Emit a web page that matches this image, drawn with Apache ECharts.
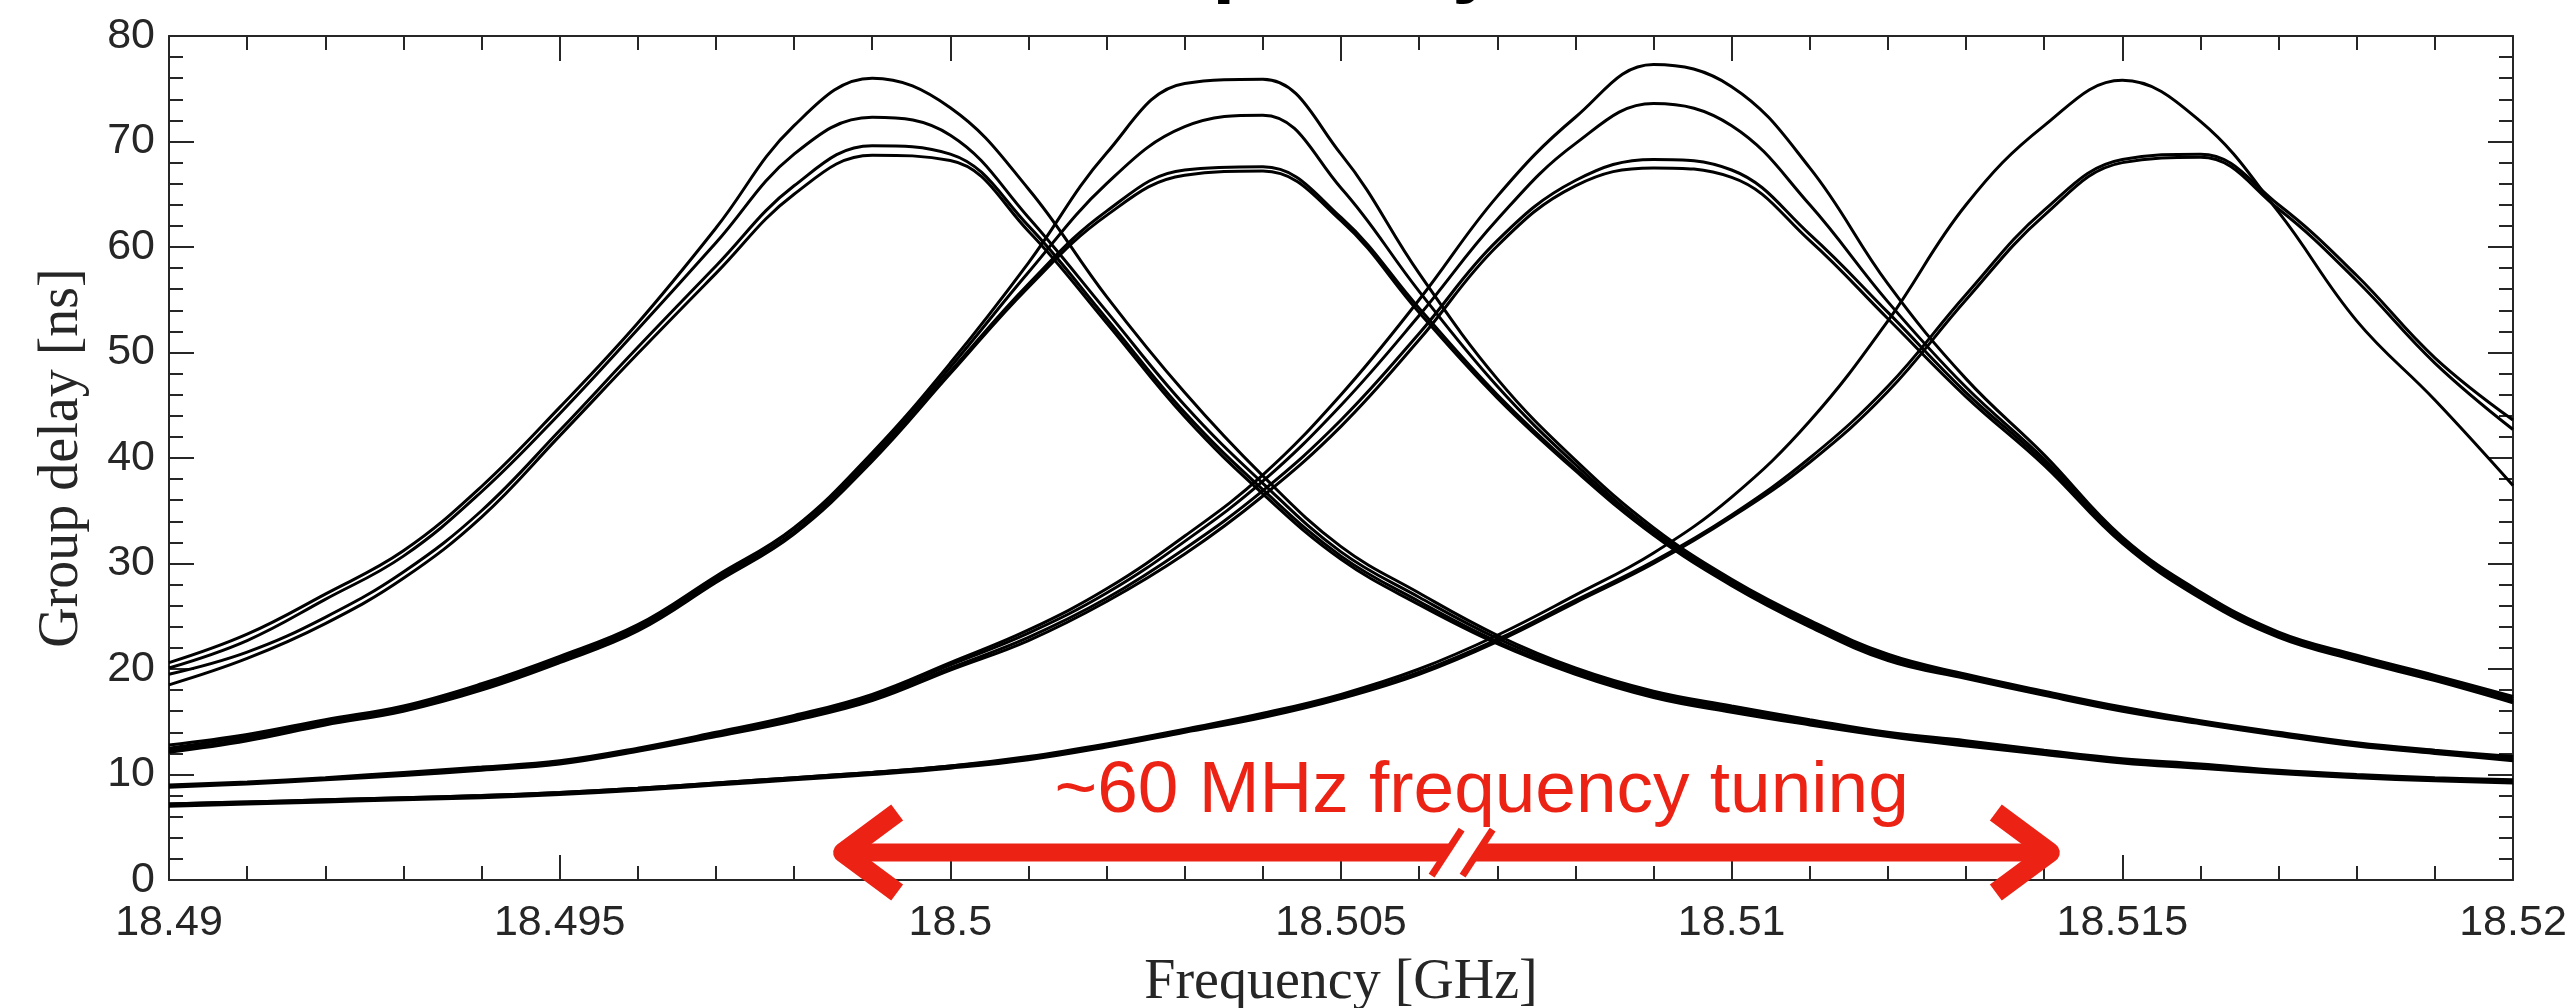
<!DOCTYPE html>
<html>
<head>
<meta charset="UTF-8">
<title>Group delay</title>
<script src="https://cdn.jsdelivr.net/npm/echarts@6/dist/echarts.min.js"></script>
<style>html,body{margin:0;padding:0;background:#fff;}</style>
</head>
<body>
<div id="main" style="width:2570px;height:1008px"></div>
<script>
// frequency grid (GHz)
var freq = [18.490, 18.491, 18.492, 18.493, 18.494, 18.495, 18.496, 18.497, 18.498, 18.499, 18.500,
            18.501, 18.502, 18.503, 18.504, 18.505, 18.506, 18.507, 18.508, 18.509, 18.510,
            18.511, 18.512, 18.513, 18.514, 18.515, 18.516, 18.517, 18.518, 18.519, 18.520];

// resonance A (~18.499 GHz)
var A1 = [20.6, 23.3, 27.1, 31.2, 37.3, 44.8, 52.8, 61.8, 71.5, 76.0, 73.2, 65.5, 55.3, 46.2, 38.3, 31.6, 27.2, 23.2, 20.1, 17.9, 16.5, 15.2, 14.0, 13.2, 12.3, 11.5, 11.0, 10.4, 10.0, 9.7, 9.5];
var A2 = [20.1, 22.7, 26.6, 30.7, 36.8, 44.2, 52.2, 60.4, 68.8, 72.3, 70.6, 62.8, 53.9, 45.0, 37.6, 31.1, 26.8, 22.9, 19.9, 17.7, 16.3, 15.0, 13.9, 13.0, 12.2, 11.4, 10.8, 10.3, 9.9, 9.6, 9.4];
var A3 = [19.5, 21.6, 24.9, 29.2, 35.0, 42.6, 50.5, 58.2, 65.8, 69.6, 68.8, 62.0, 53.2, 44.3, 37.0, 30.7, 26.4, 22.6, 19.7, 17.5, 16.1, 14.8, 13.7, 12.8, 12.0, 11.2, 10.7, 10.2, 9.8, 9.5, 9.3];
var A4 = [18.5, 21.0, 24.3, 28.6, 34.4, 42.1, 49.9, 57.5, 65.0, 68.7, 68.2, 61.5, 52.8, 43.9, 36.6, 30.4, 26.1, 22.4, 19.5, 17.3, 15.9, 14.7, 13.6, 12.7, 11.9, 11.1, 10.6, 10.1, 9.7, 9.4, 9.2];

// resonance B (~18.5035 GHz)
var B1 = [12.8, 13.8, 15.2, 16.5, 18.6, 21.2, 24.2, 28.8, 33.4, 40.5, 49.0, 58.5, 68.9, 75.5, 75.9, 68.8, 57.5, 47.5, 39.8, 33.4, 28.5, 24.6, 21.4, 19.5, 17.9, 16.4, 15.1, 14.0, 13.0, 12.3, 11.7];
var B2 = [12.5, 13.6, 15.0, 16.3, 18.4, 21.0, 24.0, 28.6, 33.3, 40.2, 48.6, 57.6, 66.0, 71.4, 72.5, 65.6, 55.8, 46.8, 39.4, 33.1, 28.3, 24.4, 21.2, 19.4, 17.8, 16.3, 15.0, 13.9, 12.9, 12.2, 11.6];
var B3 = [12.3, 13.4, 14.9, 16.2, 18.2, 20.8, 23.8, 28.4, 33.0, 39.9, 48.2, 56.5, 63.4, 67.3, 67.6, 62.8, 54.2, 46.0, 39.0, 32.9, 28.1, 24.2, 21.0, 19.3, 17.7, 16.2, 14.9, 13.8, 12.8, 12.1, 11.4];
var B4 = [12.1, 13.2, 14.7, 16.0, 18.0, 20.6, 23.6, 28.2, 32.8, 39.7, 48.0, 56.2, 63.0, 66.8, 67.2, 62.5, 53.8, 45.7, 38.8, 32.7, 27.9, 24.0, 20.8, 19.1, 17.5, 16.0, 14.8, 13.7, 12.7, 12.0, 11.3];

// resonance C (~18.509 GHz)
var C1 = [9.0, 9.3, 9.7, 10.2, 10.7, 11.3, 12.5, 14.0, 15.6, 17.6, 20.6, 23.7, 27.6, 32.6, 38.4, 46.0, 55.0, 64.8, 72.3, 77.3, 75.2, 67.5, 56.5, 47.5, 40.3, 32.5, 27.3, 23.5, 21.3, 19.4, 17.4];
var C2 = [8.9, 9.2, 9.6, 10.1, 10.6, 11.2, 12.4, 13.9, 15.5, 17.4, 20.4, 23.4, 27.2, 32.1, 37.8, 45.0, 53.5, 62.6, 69.8, 73.6, 71.5, 64.0, 54.8, 46.7, 39.9, 32.3, 27.1, 23.4, 21.2, 19.3, 17.2];
var C3 = [8.9, 9.2, 9.6, 10.0, 10.5, 11.1, 12.3, 13.8, 15.3, 17.2, 20.1, 23.0, 26.7, 31.4, 36.9, 43.6, 51.8, 60.6, 66.3, 68.3, 67.3, 61.2, 53.8, 46.2, 39.6, 32.1, 26.9, 23.2, 21.0, 19.1, 17.0];
var C4 = [8.8, 9.1, 9.5, 9.9, 10.4, 11.0, 12.2, 13.6, 15.1, 17.0, 19.9, 22.7, 26.4, 30.9, 36.4, 43.0, 51.2, 60.1, 65.8, 67.5, 66.6, 60.6, 53.2, 45.8, 39.3, 31.9, 26.7, 23.0, 20.8, 18.9, 16.8];

// resonance D (~18.515 GHz)
var D1 = [7.2, 7.4, 7.6, 7.8, 8.0, 8.3, 8.7, 9.2, 9.7, 10.2, 10.8, 11.7, 12.9, 14.3, 15.8, 17.6, 20.0, 23.2, 27.0, 31.0, 36.3, 43.5, 53.0, 64.0, 71.5, 75.8, 71.9, 63.3, 53.0, 45.5, 37.4];
var D2 = [7.2, 7.4, 7.6, 7.8, 8.0, 8.3, 8.7, 9.2, 9.7, 10.2, 10.8, 11.6, 12.8, 14.2, 15.6, 17.4, 19.7, 22.8, 26.5, 30.2, 34.6, 40.0, 46.8, 55.5, 63.5, 68.3, 68.8, 64.0, 57.3, 49.5, 43.6];
var D3 = [7.0, 7.2, 7.4, 7.6, 7.8, 8.1, 8.5, 9.0, 9.5, 10.0, 10.6, 11.4, 12.6, 14.0, 15.4, 17.2, 19.5, 22.6, 26.3, 30.0, 34.4, 39.6, 46.3, 55.0, 63.0, 68.0, 68.5, 63.6, 56.8, 49.0, 42.7];

var traces = [A1, A2, A3, A4, B1, B2, B3, B4, C1, C2, C3, C4, D1, D2, D3];

// axes
var xTickLabels = ['18.49', '18.495', '18.5', '18.505', '18.51', '18.515', '18.52'];
var yTickLabels = ['0', '10', '20', '30', '40', '50', '60', '70', '80'];

// annotation (data coordinates)
var arrowFrom = 18.4985, arrowTo = 18.5142, arrowLevel = 2.6, arrowBreak = 18.50655;
var noteFreq = 18.5068, noteLevel = 8.4;
var noteText = '~60 MHz frequency tuning';
var titleText = 'Group delay';

var ink = '#262626';
var red = '#ec2314';

var myChart = echarts.init(document.getElementById('main'));

var series = traces.map(function (t) {
    return {
        type: 'line',
        data: freq.map(function (f, i) { return [f, t[i]]; }),
        showSymbol: false,
        smooth: 0.4,
        silent: true,
        lineStyle: { color: '#000', width: 3 }
    };
});

series.push({
    type: 'custom',
    silent: true,
    z: 10,
    data: [[arrowFrom, arrowTo, arrowLevel, arrowBreak, noteFreq, noteLevel]],
    encode: { x: [0, 1], y: 2 },
    renderItem: function (params, api) {
        var pa = api.coord([api.value(0), api.value(2)]);
        var pb = api.coord([api.value(1), api.value(2)]);
        var pk = api.coord([api.value(3), api.value(2)]);
        var pn = api.coord([api.value(4), api.value(5)]);
        var y = pa[1], xa = pa[0] + 10, xb = pb[0] - 10, xk = pk[0];
        var hx = 54, hy = 40;
        var c1 = xk - 15.5, c2 = xk + 15.5;
        return {
            type: 'group',
            children: [
                { type: 'line', shape: { x1: xa + 4, y1: y, x2: xb - 4, y2: y }, style: { stroke: red, lineWidth: 18 } },
                { type: 'polyline', shape: { points: [[xa + hx, y - hy], [xa, y], [xa + hx, y + hy]] },
                  style: { stroke: red, lineWidth: 20, fill: null, lineJoin: 'round' } },
                { type: 'polyline', shape: { points: [[xb - hx, y - hy], [xb, y], [xb - hx, y + hy]] },
                  style: { stroke: red, lineWidth: 20, fill: null, lineJoin: 'round' } },
                { type: 'polygon', shape: { points: [[c1 + 7, y - 11], [c2 + 7, y - 11], [c2 - 7, y + 11], [c1 - 7, y + 11]] },
                  style: { fill: '#fff' } },
                { type: 'line', shape: { x1: c1 + 15, y1: y - 23, x2: c1 - 15, y2: y + 23 }, style: { stroke: red, lineWidth: 7 } },
                { type: 'line', shape: { x1: c2 + 15, y1: y - 23, x2: c2 - 15, y2: y + 23 }, style: { stroke: red, lineWidth: 7 } },
                { type: 'text', x: pn[0], y: pn[1],
                  style: { text: noteText, fill: red, font: '73px "Liberation Sans"', align: 'center', verticalAlign: 'middle' } }
            ]
        };
    }
});

function frameAxis(extra) {
    var base = {
        type: 'value',
        axisLine: { show: true, onZero: false, lineStyle: { color: ink, width: 2 } },
        axisTick: { show: true, inside: true, length: 25, lineStyle: { color: ink, width: 2 } },
        minorTick: { show: true, splitNumber: 5, length: 14, lineStyle: { color: ink, width: 2 } },
        splitLine: { show: false },
        minorSplitLine: { show: false }
    };
    return Object.assign(base, extra);
}

var xLabel = {
    show: true, margin: 22, fontSize: 43, fontFamily: 'Liberation Sans', color: ink,
    showMinLabel: true, showMaxLabel: true,
    formatter: function (v) { return xTickLabels[Math.round((v - 18.49) / 0.005)]; }
};
var yLabel = {
    show: true, margin: 14, fontSize: 43, fontFamily: 'Liberation Sans', color: ink,
    showMinLabel: true, showMaxLabel: true,
    formatter: function (v) { return yTickLabels[Math.round(v / 10)]; }
};

var option = {
    backgroundColor: '#fff',
    animation: false,
    grid: { left: 169, right: 57, top: 36, bottom: 128, outerBoundsMode: 'none' },
    graphic: [{
        type: 'text', x: 1014, y: -36, silent: true,
        style: { text: titleText, font: 'bold 83px "Liberation Sans"', fill: '#000', verticalAlign: 'middle' }
    }],
    xAxis: [
        frameAxis({ min: 18.49, max: 18.52, interval: 0.005, position: 'bottom', axisLabel: xLabel,
            name: 'Frequency [GHz]', nameLocation: 'middle', nameGap: 75,
            nameTextStyle: { fontFamily: 'Liberation Serif', fontSize: 56, color: ink } }),
        frameAxis({ min: 18.49, max: 18.52, interval: 0.005, position: 'top', axisLabel: { show: false } })
    ],
    yAxis: [
        frameAxis({ min: 0, max: 80, interval: 10, position: 'left', axisLabel: yLabel,
            name: 'Group delay [ns]', nameLocation: 'middle', nameGap: 79, nameRotate: 90,
            nameTextStyle: { fontFamily: 'Liberation Serif', fontSize: 56, color: ink } }),
        frameAxis({ min: 0, max: 80, interval: 10, position: 'right', axisLabel: { show: false } })
    ],
    series: series
};

myChart.setOption(option);
</script>
</body>
</html>
